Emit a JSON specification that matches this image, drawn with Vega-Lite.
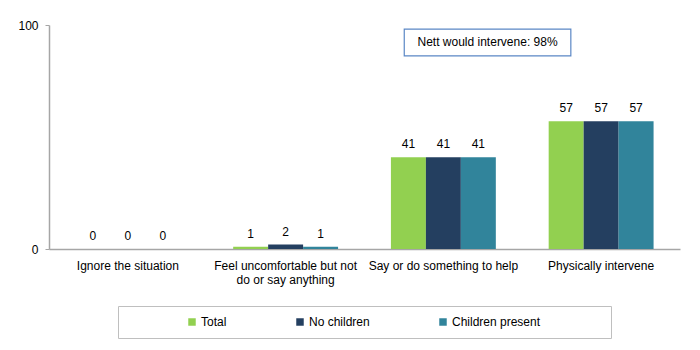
{
  "$schema": "https://vega.github.io/schema/vega-lite/v6.json",
  "autosize": {"type": "none"},
  "width": 631,
  "height": 224,
  "padding": {"left": 49, "top": 25, "right": 20, "bottom": 101},
  "background": "white",
  "config": {
    "view": {"stroke": null},
    "font": "Liberation Sans",
    "text": {"font": "Liberation Sans"}
  },
  "datasets": {
    "bars": [
      {"category": "Ignore the situation", "series": "Total", "value": 0},
      {"category": "Ignore the situation", "series": "No children", "value": 0},
      {"category": "Ignore the situation", "series": "Children present", "value": 0},
      {"category": "Feel uncomfortable but not do or say anything", "series": "Total", "value": 1},
      {"category": "Feel uncomfortable but not do or say anything", "series": "No children", "value": 2},
      {"category": "Feel uncomfortable but not do or say anything", "series": "Children present", "value": 1},
      {"category": "Say or do something to help", "series": "Total", "value": 41},
      {"category": "Say or do something to help", "series": "No children", "value": 41},
      {"category": "Say or do something to help", "series": "Children present", "value": 41},
      {"category": "Physically intervene", "series": "Total", "value": 57},
      {"category": "Physically intervene", "series": "No children", "value": 57},
      {"category": "Physically intervene", "series": "Children present", "value": 57}
    ],
    "note": [
      {"label": "Nett would intervene: 98%", "x1": 56.3, "x2": 82.7, "xm": 69.5, "y1": 86.2, "y2": 98.2, "ym": 92.2}
    ]
  },
  "layer": [
    {
      "data": {"name": "bars"},
      "encoding": {
        "x": {
          "field": "category", "type": "nominal", "sort": null,
          "scale": {"paddingInner": 0.335, "paddingOuter": 0.1675},
          "axis": {
            "title": null, "labelAngle": 0, "ticks": false,
            "domainColor": "#a6a6a6", "domainWidth": 1.5,
            "labelFont": "Liberation Sans", "labelFontSize": 12, "labelColor": "#000000",
            "labelPadding": 11, "labelLineHeight": 14, "labelLimit": 200,
            "labelExpr": "datum.label == 'Feel uncomfortable but not do or say anything' ? ['Feel uncomfortable but not', 'do or say anything'] : datum.label"
          }
        },
        "xOffset": {"field": "series", "type": "nominal", "sort": ["Total", "No children", "Children present"], "scale": {"paddingInner": 0, "paddingOuter": 0}},
        "y": {
          "field": "value", "type": "quantitative",
          "scale": {"domain": [0, 100], "nice": false},
          "axis": {
            "title": null, "values": [0, 100], "grid": false,
            "domainColor": "#a6a6a6", "domainWidth": 1.5,
            "tickColor": "#a6a6a6", "tickSize": 4,
            "labelFont": "Liberation Sans", "labelFontSize": 12, "labelColor": "#000000",
            "labelPadding": 7
          }
        }
      },
      "layer": [
        {
          "mark": {"type": "bar"},
          "encoding": {
            "color": {
              "field": "series", "type": "nominal",
              "sort": ["Total", "No children", "Children present"],
              "scale": {"domain": ["Total", "No children", "Children present"], "range": ["#92d050", "#243f60", "#31849b"]},
              "legend": {
                "title": " ", "titleOrient": "right", "titlePadding": 61,
                "orient": "none", "legendX": 69, "legendY": 281,
                "direction": "horizontal", "strokeColor": "#bfbfbf", "padding": 10,
                "symbolOffset": 58, "columnPadding": 9,
                "symbolType": "square", "symbolSize": 56, "symbolStrokeWidth": 0,
                "labelFont": "Liberation Sans", "labelFontSize": 12, "labelColor": "#000000",
                "labelOffset": 3
              }
            }
          }
        },
        {
          "mark": {"type": "text", "baseline": "bottom", "dy": -6, "font": "Liberation Sans", "fontSize": 12, "color": "#000000"},
          "encoding": {"text": {"field": "value", "type": "quantitative"}}
        }
      ]
    },
    {
      "data": {"name": "note"},
      "encoding": {},
      "layer": [
        {
          "mark": {"type": "rect", "fill": "white", "stroke": "#5b87c5", "strokeWidth": 1.2},
          "encoding": {
            "x": {"field": "x1", "type": "quantitative", "scale": {"domain": [0, 100], "nice": false}, "axis": null},
            "x2": {"field": "x2"},
            "y": {"field": "y1", "type": "quantitative"},
            "y2": {"field": "y2"}
          }
        },
        {
          "mark": {"type": "text", "font": "Liberation Sans", "fontSize": 12, "color": "#000000"},
          "encoding": {
            "x": {"field": "xm", "type": "quantitative", "scale": {"domain": [0, 100], "nice": false}, "axis": null},
            "y": {"field": "ym", "type": "quantitative"},
            "text": {"field": "label"}
          }
        }
      ]
    }
  ],
  "resolve": {"scale": {"x": "independent"}, "axis": {"x": "independent"}}
}
